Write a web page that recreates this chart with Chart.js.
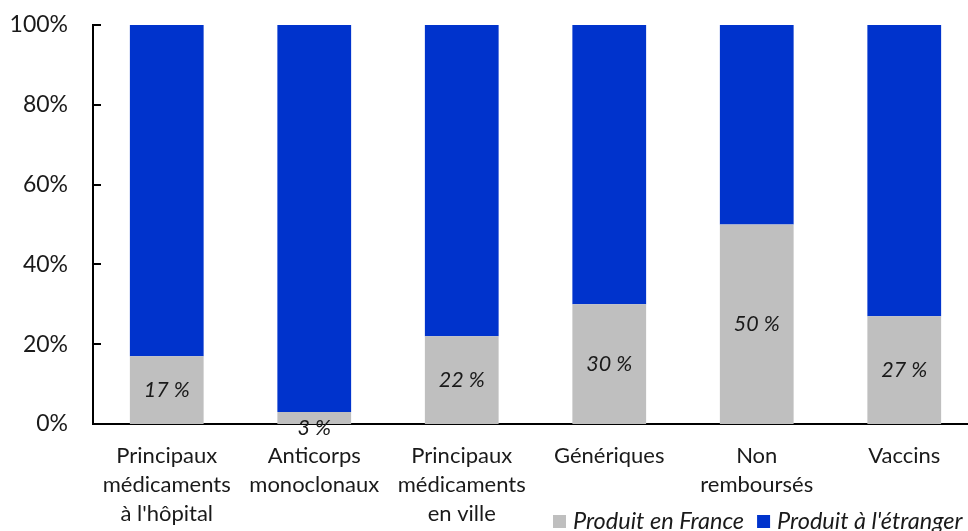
<!DOCTYPE html>
<html>
<head>
<meta charset="utf-8">
<script src="https://cdn.jsdelivr.net/npm/chart.js@4"></script>
<style>
  html, body { margin: 0; padding: 0; overflow: hidden; background: #fff; }
  #wrap { width: 982px; height: 542px; position: relative; }
</style>
</head>
<body>
<div id="wrap"><canvas id="myChart"></canvas></div>
<script>
const categories = [
  ['Principaux', 'médicaments', "à l'hôpital"],
  ['Anticorps', 'monoclonaux'],
  ['Principaux', 'médicaments', 'en ville'],
  ['Génériques'],
  ['Non', 'remboursés'],
  ['Vaccins']
];
const produitFrance = [17, 3, 22, 30, 50, 27];
const produitEtranger = produitFrance.map(v => 100 - v);
const yTicks = [0, 20, 40, 60, 80, 100];

const FONT = 'Lato, "Open Sans", sans-serif';
const TEXT = '#1a1a1a';

// labels inside the grey part
const barLabels = {
  id: 'barLabels',
  afterDatasetsDraw(chart) {
    const c = chart.ctx;
    const meta = chart.getDatasetMeta(0);
    c.save();
    c.font = 'italic 21.5px ' + FONT;
    c.fillStyle = TEXT;
    c.textAlign = 'center';
    c.textBaseline = 'middle';
    meta.data.forEach((bar, i) => {
      let y = (bar.y + bar.base) / 2;
      if (bar.base - bar.y < 22) y = bar.base + 4;
      c.fillText(produitFrance[i] + ' %', bar.x, y);
    });
    c.restore();
  }
};

// small tick marks on the inner side of the y axis
const innerTicks = {
  id: 'innerTicks',
  afterDraw(chart) {
    const c = chart.ctx;
    const y = chart.scales.y;
    c.save();
    c.strokeStyle = '#000';
    c.lineWidth = 2;
    yTicks.forEach(t => {
      const py = Math.round(y.getPixelForValue(t));
      c.beginPath();
      c.moveTo(y.right, py);
      c.lineTo(y.right + 8, py);
      c.stroke();
    });
    c.restore();
  }
};

// pull the plot top up to where the reference has it
const plotTop = {
  id: 'plotTop',
  afterLayout(chart) {
    const top = 25;
    const y = chart.scales.y;
    y.top = top;
    y.height = y.bottom - top;
    y.configure();
    chart.chartArea.top = top;
    chart.chartArea.height = chart.chartArea.bottom - top;
  }
};

// legend sits in the lower right, beside the last label line
const cornerLegend = {
  id: 'cornerLegend',
  afterDraw(chart) {
    const c = chart.ctx;
    const x0 = 553, cy = 521.5;
    c.save();
    c.font = 'italic 23.5px ' + FONT;
    c.textBaseline = 'middle';
    let x = x0;
    chart.data.datasets.forEach(ds => {
      c.fillStyle = ds.backgroundColor;
      c.fillRect(x, cy - 6.5, 13, 13);
      c.fillStyle = TEXT;
      c.fillText(ds.label, x + 20, cy);
      x += 20 + c.measureText(ds.label).width + 13;
    });
    c.restore();
  }
};

new Chart(document.getElementById('myChart'), {
  type: 'bar',
  data: {
    labels: categories,
    datasets: [{
      label: 'Produit en France',
      data: produitFrance,
      backgroundColor: '#bfbfbf',
      barPercentage: 0.5,
      categoryPercentage: 1
    }, {
      label: "Produit à l'étranger",
      data: produitEtranger,
      backgroundColor: '#0033cc',
      barPercentage: 0.5,
      categoryPercentage: 1
    }]
  },
  options: {
    responsive: true,
    maintainAspectRatio: false,
    animation: false,
    layout: {
      padding: { top: 0, left: 8, right: 4, bottom: 14 }
    },
    plugins: {
      legend: { display: false },
      tooltip: { enabled: false }
    },
    scales: {
      x: {
        stacked: true,
        afterFit: s => { s.height = 104; },
        grid: { display: false, drawTicks: false },
        border: { display: true, color: '#000', width: 2 },
        ticks: {
          color: TEXT,
          padding: 17,
          maxRotation: 0,
          autoSkip: false,
          font: { family: FONT, size: 22, lineHeight: 1.32 }
        }
      },
      y: {
        stacked: true,
        min: 0,
        max: 100,
        afterFit: s => { s.width = 85; },
        grid: { display: false, drawTicks: false },
        border: { display: true, color: '#000', width: 2 },
        ticks: {
          stepSize: 20,
          padding: 25,
          color: TEXT,
          font: { family: FONT, size: 23 },
          callback: v => v + '%'
        }
      }
    }
  },
  plugins: [barLabels, innerTicks, plotTop, cornerLegend]
});
</script>
</body>
</html>
